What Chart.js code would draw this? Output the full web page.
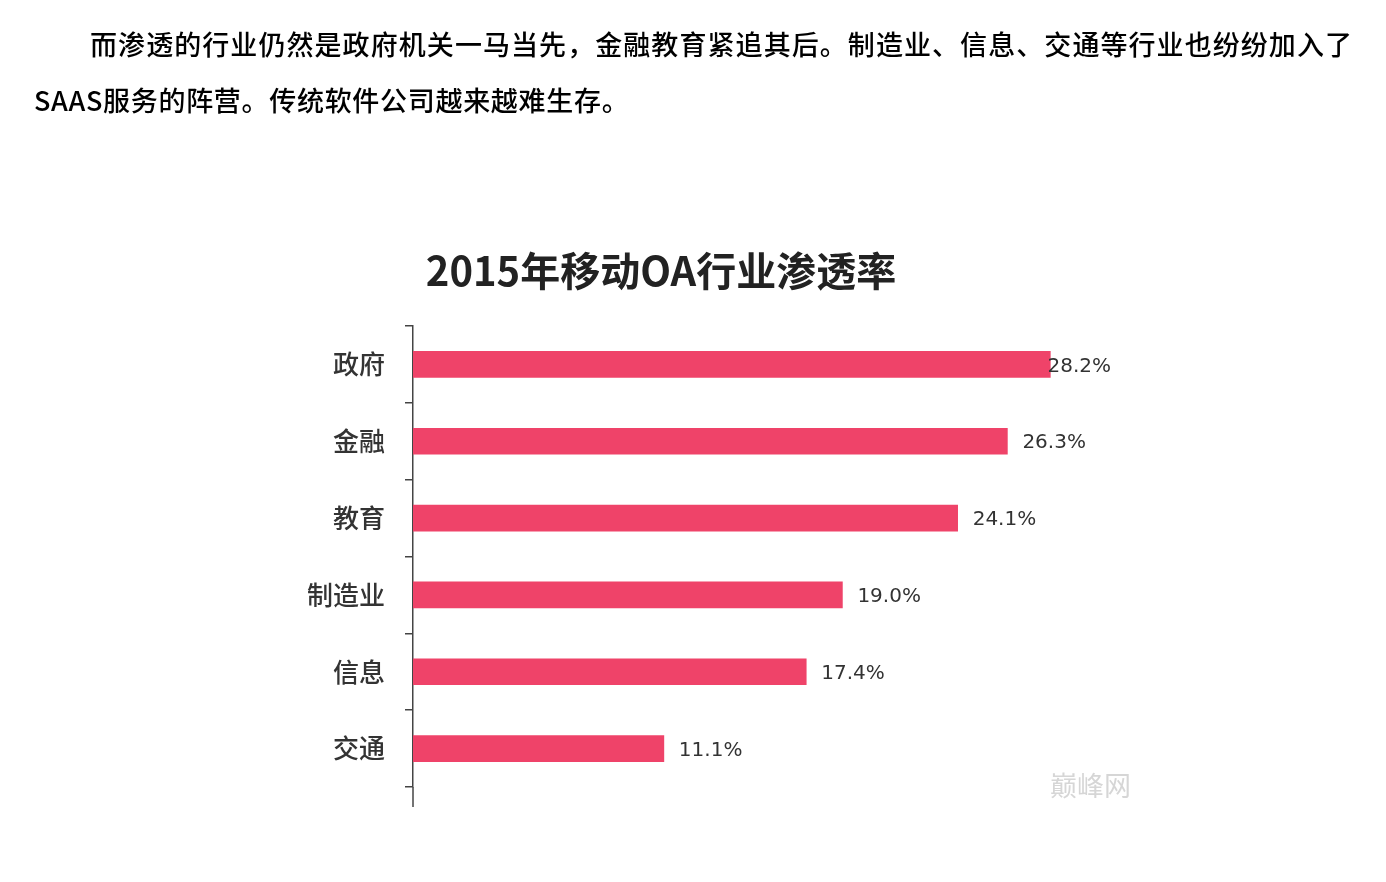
<!DOCTYPE html>
<html><head><meta charset="utf-8">
<script src="https://cdn.jsdelivr.net/npm/chart.js@4.4.0/dist/chart.umd.min.js"></script>
<style>
html,body{margin:0;padding:0;background:#fff;width:1386px;height:882px;overflow:hidden;}
#wrap{position:relative;width:1386px;height:882px;}
canvas{position:absolute;left:0;top:0;}
.p{position:absolute;font-family:"Noto Sans CJK SC";font-size:27px;line-height:56px;color:#000;font-weight:500;white-space:nowrap;}
#l1{left:90px;top:16px;width:1262px;text-align:justify;text-align-last:justify;}
#l2{left:34px;top:72px;letter-spacing:0.7px;}
#title{position:absolute;left:0;width:1322px;top:244px;text-align:center;font-family:"Noto Sans CJK SC";font-weight:700;font-size:40px;color:#222;line-height:50px;}
#wm{position:absolute;left:1050px;top:767px;font-family:"Noto Sans CJK SC";font-size:27px;color:#d6d6d6;line-height:36px;}
</style></head>
<body><div id="wrap">
<canvas id="c" width="1386" height="882"></canvas>
<div class="p" id="l1">而渗透的行业仍然是政府机关一马当先，金融教育紧追其后。制造业、信息、交通等行业也纷纷加入了</div>
<div class="p" id="l2">SAAS服务的阵营。传统软件公司越来越难生存。</div>
<div id="title">2015年移动OA行业渗透率</div>
<div id="wm">巅峰网</div>
</div>
<script>
const categories = ['政府','金融','教育','制造业','信息','交通'];
const penetration = [28.2, 26.3, 24.1, 19.0, 17.4, 11.1];
const valueLabels = ['28.2%','26.3%','24.1%','19.0%','17.4%','11.1%'];

const labelPlugin = {
  id: 'valueLabels',
  afterDatasetsDraw(chart) {
    const ctx = chart.ctx;
    const meta = chart.getDatasetMeta(0);
    const maxRight = chart.chartArea.right + 20;
    ctx.save();
    ctx.font = '20px "DejaVu Sans"';
    ctx.fillStyle = '#333';
    ctx.textBaseline = 'middle';
    ctx.textAlign = 'left';
    meta.data.forEach((bar, i) => {
      const t = valueLabels[i];
      const w = ctx.measureText(t).width;
      let x = Math.min(bar.x + 15, maxRight - w);
      ctx.fillText(t, x, bar.y + 2);
    });
    ctx.restore();
  }
};
const axisExt = {
  id: 'axisExt',
  afterDraw(chart) {
    const {ctx, chartArea} = chart;
    ctx.save();
    ctx.strokeStyle = '#444';
    ctx.lineWidth = 1.5;
    ctx.beginPath();
    ctx.moveTo(chartArea.left, chartArea.bottom);
    ctx.lineTo(chartArea.left, chartArea.bottom + 20);
    ctx.stroke();
    ctx.restore();
  }
};

new Chart(document.getElementById('c'), {
  type: 'bar',
  data: {
    labels: categories,
    datasets: [{
      data: penetration,
      backgroundColor: '#EF4369',
      barThickness: 26
    }]
  },
  options: {
    indexAxis: 'y',
    responsive: false,
    animation: false,
    layout: { padding: { left: 0, top: 326, right: 295, bottom: 95 } },
    plugins: { legend: { display: false }, tooltip: { enabled: false }, title: { display: false } },
    scales: {
      x: { display: false, min: 0, max: 30 },
      y: {
        grid: { display: true, drawOnChartArea: false, drawTicks: true, tickLength: 8, color: '#444', lineWidth: 1.5, offset: true },
        border: { display: true, color: '#444', width: 1.5 },
        ticks: { color: '#333', font: { family: 'Noto Sans CJK SC', size: 26, weight: '500' }, padding: 20 },
        afterFit(s) { s.width = 413; }
      }
    }
  },
  plugins: [labelPlugin, axisExt]
});
</script>
</body></html>
